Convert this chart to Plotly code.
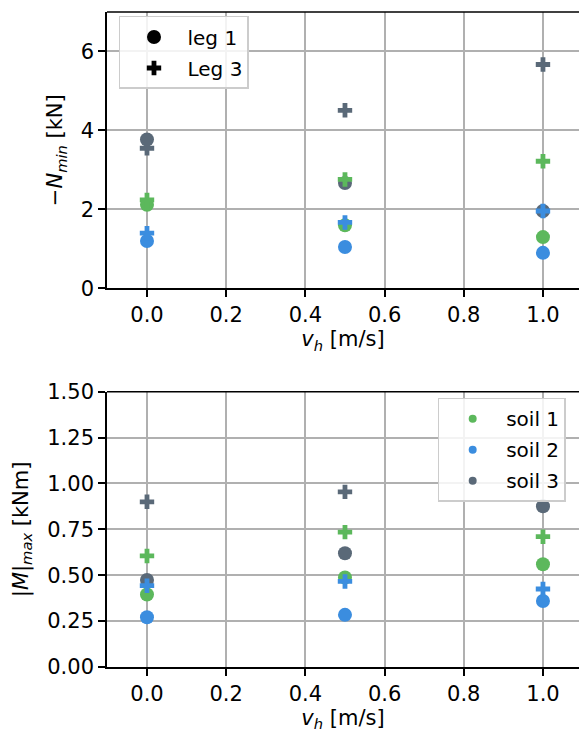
import plotly.graph_objects as go

# ---- data ----
v_h = [0.0, 0.5, 1.0]
soils = ["soil 1", "soil 2", "soil 3"]
soil_colors = ["#5cb85c", "#3b8ddf", "#5a6978"]

# -N_min [kN]
N_leg1 = {"soil 1": [2.12, 1.60, 1.30], "soil 2": [1.20, 1.05, 0.90], "soil 3": [3.77, 2.67, 1.96]}
N_leg3 = {"soil 1": [2.24, 2.76, 3.22], "soil 2": [1.40, 1.67, 1.96], "soil 3": [3.55, 4.51, 5.67]}
# |M|_max [kNm]
M_leg1 = {"soil 1": [0.395, 0.488, 0.56], "soil 2": [0.271, 0.284, 0.36], "soil 3": [0.474, 0.62, 0.876]}
M_leg3 = {"soil 1": [0.605, 0.735, 0.71], "soil 2": [0.443, 0.466, 0.425], "soil 3": [0.90, 0.954, None]}

x_ticks = [0.0, 0.2, 0.4, 0.6, 0.8, 1.0]
N_ticks = [0, 2, 4, 6]
M_ticks = [0.0, 0.25, 0.5, 0.75, 1.0, 1.25, 1.5]

FONT = "DejaVu Sans"
FS = 21
LFS = 20
CIRCLE_SIZE = 14
CROSS_SIZE = 12

fig = go.Figure()

# drawing order chosen to match overlaps
order = [("soil 3", "leg3"), ("soil 3", "leg1"), ("soil 1", "leg1"), ("soil 1", "leg3"),
         ("soil 2", "leg1"), ("soil 2", "leg3")]
for soil, leg in order:
    col = soil_colors[soils.index(soil)]
    sym = "circle" if leg == "leg1" else "cross"
    size = CIRCLE_SIZE if leg == "leg1" else CROSS_SIZE
    Nd = N_leg1 if leg == "leg1" else N_leg3
    Md = M_leg1 if leg == "leg1" else M_leg3
    fig.add_trace(go.Scatter(x=v_h, y=Nd[soil], mode="markers", xaxis="x", yaxis="y",
                             marker=dict(symbol=sym, size=size, color=col, line=dict(width=0)),
                             showlegend=False))
    fig.add_trace(go.Scatter(x=v_h, y=Md[soil], mode="markers", xaxis="x2", yaxis="y2",
                             marker=dict(symbol=sym, size=size, color=col, line=dict(width=0)),
                             showlegend=False))

# legend entries (top: marker shapes)
for name, sym, size in [("leg 1", "circle", CIRCLE_SIZE), ("Leg 3", "cross", CROSS_SIZE)]:
    fig.add_trace(go.Scatter(x=[None], y=[None], mode="markers", xaxis="x", yaxis="y",
                             marker=dict(symbol=sym, size=size, color="black"),
                             name=name, legend="legend", legendgroup=name))
# legend entries (bottom: soil colours)
for soil, col in zip(soils, soil_colors):
    fig.add_trace(go.Scatter(x=[None], y=[None], mode="markers", xaxis="x2", yaxis="y2",
                             marker=dict(symbol="circle", size=8, color=col),
                             name=soil, legend="legend2", legendgroup=soil))

axis_common = dict(
    showgrid=True, gridcolor="#b0b0b0", gridwidth=1.5,
    showline=True, linecolor="black", linewidth=1.6,
    ticks="outside", ticklen=7, tickwidth=1.6, tickcolor="black",
    zeroline=False,
    tickfont=dict(family=FONT, size=FS, color="black"),
)

x_range = [-0.101, 1.091]
fig.update_layout(
    width=579, height=733,
    margin=dict(l=107, r=0, t=8, b=66),
    paper_bgcolor="white", plot_bgcolor="white",
    font=dict(family=FONT, size=FS, color="black"),
    xaxis=dict(domain=[0, 1], anchor="y", range=x_range, tickvals=x_ticks, tickformat=".1f",
               title=dict(text="<i>v</i><sub><i>h</i></sub> [m/s]", font=dict(family=FONT, size=FS), standoff=5),
               **axis_common),
    yaxis=dict(domain=[0.578, 1.0], anchor="x", range=[0, 7], tickvals=N_ticks,
               title=dict(text="−<i>N</i><sub><i>min</i></sub> [kN]", font=dict(family=FONT, size=FS), standoff=12),
               **axis_common),
    xaxis2=dict(domain=[0, 1], anchor="y2", range=x_range, tickvals=x_ticks, tickformat=".1f",
                title=dict(text="<i>v</i><sub><i>h</i></sub> [m/s]", font=dict(family=FONT, size=FS), standoff=5),
                **axis_common),
    yaxis2=dict(domain=[0.0, 0.4203], anchor="x2", range=[0, 1.5], tickvals=M_ticks, tickformat=".2f",
                title=dict(text="|<i>M</i>|<sub><i>max</i></sub> [kNm]", font=dict(family=FONT, size=FS), standoff=13),
                **axis_common),
    legend=dict(x=0.0254, y=0.9939, xanchor="left", yanchor="top",
                bgcolor="rgba(255,255,255,0.85)", bordercolor="#cccccc", borderwidth=1.5,
                font=dict(family=FONT, size=LFS, color="black"), itemwidth=57,
                tracegroupgap=2),
    legend2=dict(x=0.7006, y=0.4112, xanchor="left", yanchor="top",
                 bgcolor="rgba(255,255,255,0.85)", bordercolor="#cccccc", borderwidth=1.5,
                 font=dict(family=FONT, size=LFS, color="black"), itemwidth=57,
                 tracegroupgap=2, itemsizing="trace"),
)

# top spines (right spine lies outside the picture)
for xr, yr in [("x domain", "y domain"), ("x2 domain", "y2 domain")]:
    fig.add_shape(type="line", xref=xr, yref=yr, x0=0, x1=1, y0=1, y1=1,
                  line=dict(color="black", width=1.6))

fig.write_html("out.html", config={"displayModeBar": False},
               post_script="document.body.style.margin='0';")
